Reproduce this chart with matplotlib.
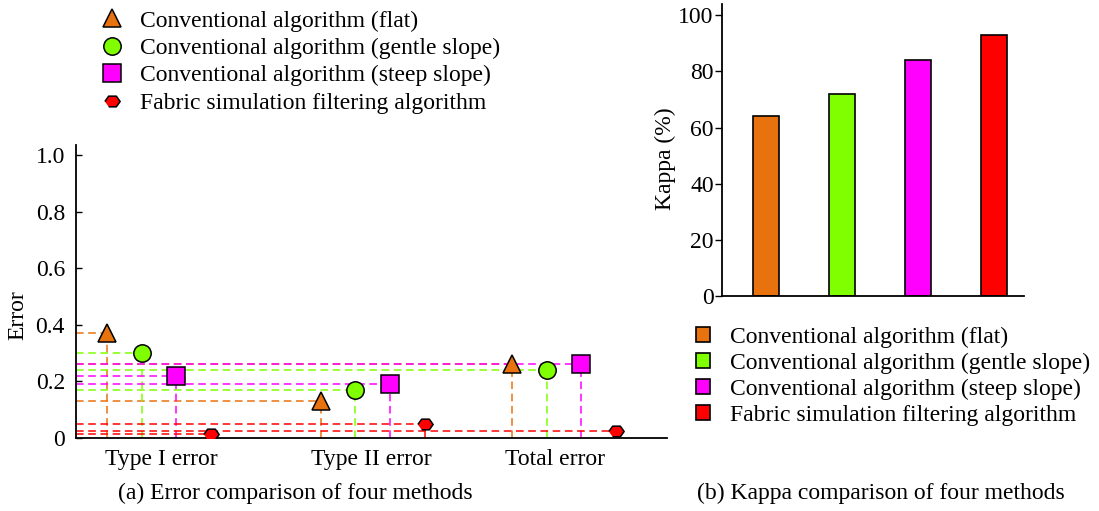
import matplotlib
matplotlib.use('Agg')
import matplotlib.pyplot as plt
from matplotlib.lines import Line2D
from matplotlib.patches import Patch

plt.rcParams['font.family'] = ['Liberation Serif', 'DejaVu Serif']
plt.rcParams['font.size'] = 17

# 数据
methods = ['Conventional algorithm (flat)',
           'Conventional algorithm (gentle slope)',
           'Conventional algorithm (steep slope)',
           'Fabric simulation filtering algorithm']
error_types = ['Type I error', 'Type II error', 'Total error']
err_flat = [0.37, 0.13, 0.26]
err_gentle = [0.30, 0.17, 0.24]
err_steep = [0.22, 0.19, 0.26]
err_fabric = [0.013, 0.051, 0.025]
kappa = [64, 72, 84, 93]

colors = ['#E8720E', '#7FFF00', '#FF00FF', '#FF0000']
hexagon = [(-1, 0), (-0.5, 0.7), (0.5, 0.7), (1, 0), (0.5, -0.7), (-0.5, -0.7)]
markers = ['^', 'o', 's', hexagon]
msizes = [12.5, 12.5, 12.5, 11]

# 组中心与组内偏移（图上各组间距不完全相等）
group_x = [1.59, 3.725, 5.64]
label_x = [1.61, 3.71, 5.55]
offsets = [-0.52, -0.173, 0.173, 0.52]
x_left = 0.76

fig = plt.figure(figsize=(10.99, 5.11), dpi=100)

# (a) 误差对比
ax1 = fig.add_axes([76 / 1099, 1 - 438 / 511, 591 / 1099, 293 / 511])
series = [err_flat, err_gentle, err_steep, err_fabric]
for i, vals in enumerate(series):
    xs = [g + offsets[i] for g in group_x]
    for x, v in zip(xs, vals):
        ax1.plot([x_left, x], [v, v], color=colors[i], lw=1.1, dashes=(5, 3), zorder=2)
        ax1.plot([x, x], [0, v], color=colors[i], lw=1.1, dashes=(5, 3), zorder=2)
    ax1.plot(xs, vals, linestyle='none', marker=markers[i], markersize=msizes[i],
             markerfacecolor=colors[i], markeredgecolor='black', markeredgewidth=1.1, zorder=4)

ax1.set_xlim(x_left, 6.67)
ax1.set_ylim(0, 1.035)
ax1.set_yticks([0, 0.2, 0.4, 0.6, 0.8, 1.0])
ax1.set_yticklabels(['0', '0.2', '0.4', '0.6', '0.8', '1.0'])
ax1.set_xticks(label_x)
ax1.set_xticklabels(error_types)
ax1.tick_params(axis='y', direction='in', length=4, width=1, pad=8)
ax1.tick_params(axis='x', length=0, pad=8)
for s in ['top', 'right']:
    ax1.spines[s].set_visible(False)
for s in ['left', 'bottom']:
    ax1.spines[s].set_linewidth(1.3)
ax1.set_ylabel('Error', va='center')
ax1.yaxis.set_label_coords(-0.098, 0.42)

# (b) Kappa 对比
ax2 = fig.add_axes([722 / 1099, 1 - 296 / 511, 302 / 1099, 292 / 511])
ax2.bar([1, 2, 3, 4], kappa, width=0.342, color=colors, edgecolor='black', linewidth=1.2)
ax2.set_xlim(0.421, 4.395)
ax2.set_ylim(0, 104)
ax2.set_yticks([0, 20, 40, 60, 80, 100])
ax2.set_xticks([])
ax2.tick_params(axis='y', direction='out', length=5, width=1, pad=1)
for s in ['top', 'right']:
    ax2.spines[s].set_visible(False)
for s in ['left', 'bottom']:
    ax2.spines[s].set_linewidth(1.3)
ax2.set_ylabel('Kappa (%)', va='center')
ax2.yaxis.set_label_coords(-0.189, 0.47)

# 图例
h1 = [Line2D([], [], linestyle='none', marker=markers[i], markersize=msizes[i],
             markerfacecolor=colors[i], markeredgecolor='black', markeredgewidth=1.1)
      for i in range(4)]
fig.legend(h1, methods, loc='upper left', bbox_to_anchor=(100 / 1099, 1 - 10 / 511),
           frameon=False, borderpad=0, borderaxespad=0, handlelength=1.0,
           handletextpad=0.7, labelspacing=0.25)

h2 = [Patch(facecolor=colors[i], edgecolor='black', linewidth=1.2) for i in range(4)]
fig.legend(h2, methods, loc='upper left', bbox_to_anchor=(696 / 1099, 1 - 327 / 511),
           frameon=False, borderpad=0, borderaxespad=0, handlelength=0.6,
           handleheight=0.6, handletextpad=0.85, labelspacing=0.2)

fig.text(295 / 1099, 1 - 493 / 511, '(a) Error comparison of four methods', ha='center', va='center')
fig.text(881 / 1099, 1 - 493 / 511, '(b) Kappa comparison of four methods', ha='center', va='center')

fig.savefig('out.png', dpi=100)
